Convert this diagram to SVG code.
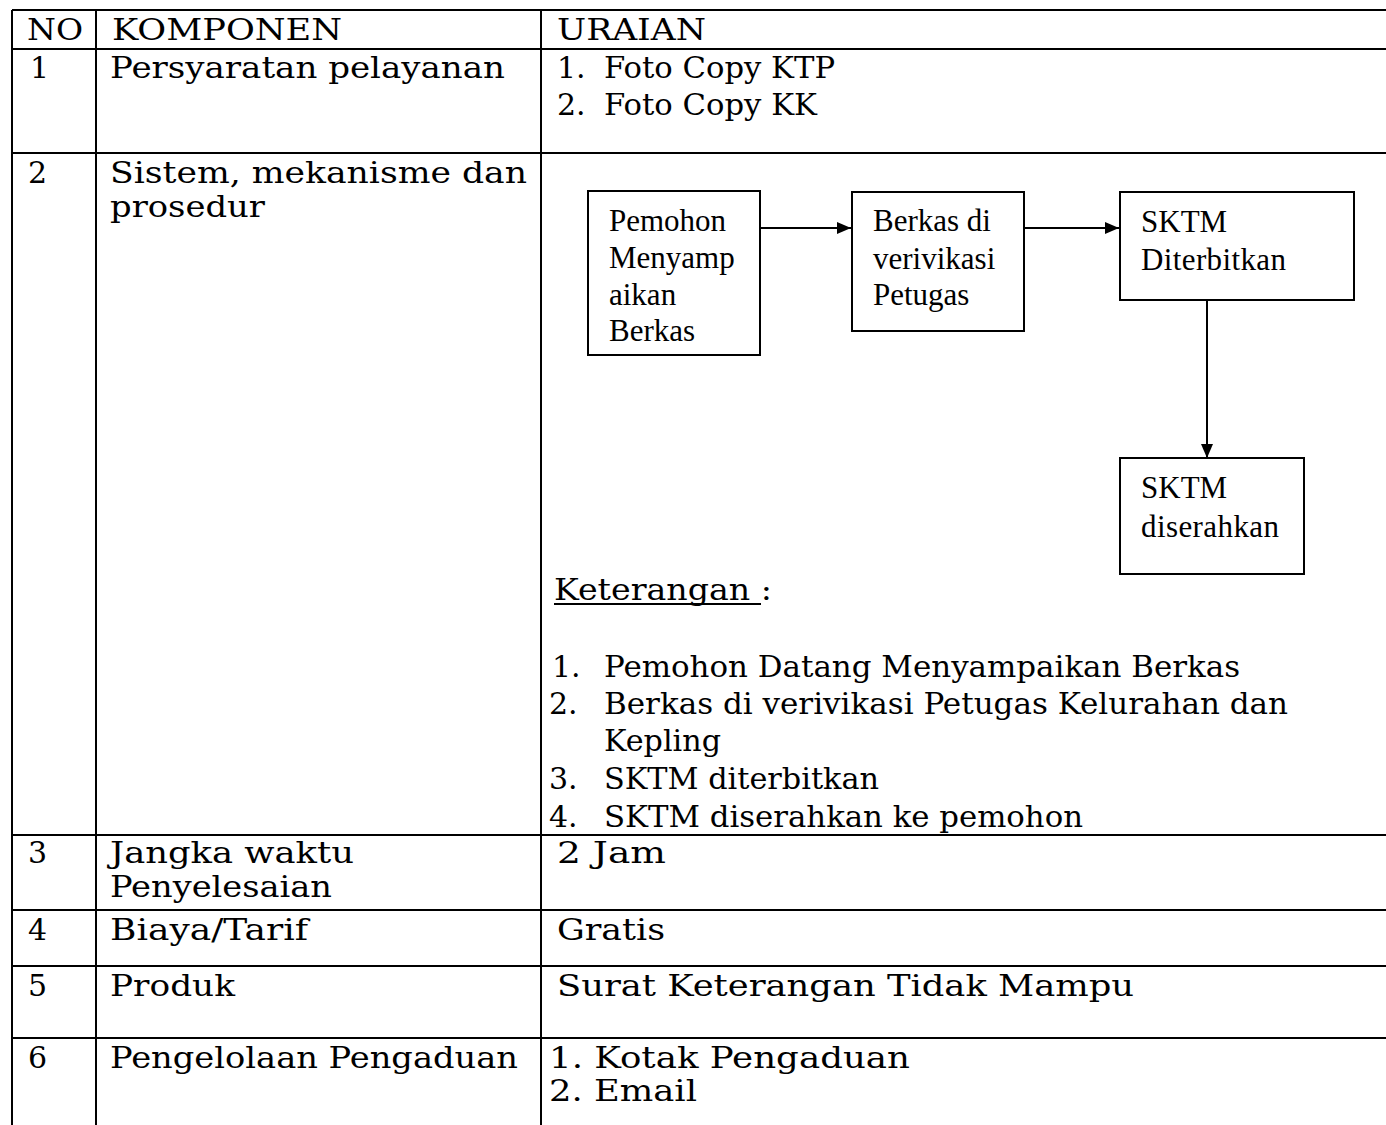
<svg xmlns="http://www.w3.org/2000/svg" width="1386" height="1125" viewBox="0 0 1386 1125">
<defs>
<marker id="arr" viewBox="0 0 14 12" refX="14" refY="6" markerWidth="14" markerHeight="12" markerUnits="userSpaceOnUse" orient="auto">
<path d="M0,0 L14,6 L0,12 Z" fill="#000"/>
</marker>
</defs>
<style>
.t{font-family:"DejaVu Serif","Liberation Serif",serif;font-size:30px;fill:#000}
.f{font-family:"Liberation Serif","Times New Roman",serif;font-size:31px;fill:#000}
.g{stroke:#000;stroke-width:2;fill:none}
.box{fill:#fff;stroke:#000;stroke-width:2}
.c{stroke:#000;stroke-width:2;fill:none}
</style>
<rect width="1386" height="1125" fill="#fff"/>
<g id="table">
<line class="g" x1="12" y1="10" x2="1386" y2="10"/>
<line class="g" x1="12" y1="49" x2="1386" y2="49"/>
<line class="g" x1="12" y1="153" x2="1386" y2="153"/>
<line class="g" x1="12" y1="835" x2="1386" y2="835"/>
<line class="g" x1="12" y1="910" x2="1386" y2="910"/>
<line class="g" x1="12" y1="966" x2="1386" y2="966"/>
<line class="g" x1="12" y1="1038" x2="1386" y2="1038"/>
<line class="g" x1="12" y1="10" x2="12" y2="1125"/>
<line class="g" x1="96" y1="10" x2="96" y2="1125"/>
<line class="g" x1="541" y1="10" x2="541" y2="1125"/>
</g>
<g id="header">
<text class="t" x="27" y="40" textLength="56" lengthAdjust="spacingAndGlyphs">NO</text>
<text class="t" x="112" y="40" textLength="230" lengthAdjust="spacingAndGlyphs">KOMPONEN</text>
<text class="t" x="557" y="40" textLength="149" lengthAdjust="spacingAndGlyphs">URAIAN</text>
</g>
<g id="row1">
<text class="t" x="30" y="78">1</text>
<text class="t" x="110" y="78" textLength="395" lengthAdjust="spacingAndGlyphs">Persyaratan pelayanan</text>
<text class="t" x="557" y="78">1.</text>
<text class="t" x="604" y="78" textLength="231" lengthAdjust="spacingAndGlyphs">Foto Copy KTP</text>
<text class="t" x="557" y="115">2.</text>
<text class="t" x="604" y="115" textLength="213" lengthAdjust="spacingAndGlyphs">Foto Copy KK</text>
</g>
<g id="row2">
<text class="t" x="28" y="183">2</text>
<text class="t" x="110" y="183" textLength="417" lengthAdjust="spacingAndGlyphs">Sistem, mekanisme dan</text>
<text class="t" x="110" y="217" textLength="155" lengthAdjust="spacingAndGlyphs">prosedur</text>
<text class="t" x="554" y="600" textLength="218" lengthAdjust="spacingAndGlyphs">Keterangan :</text>
<line x1="554" y1="604" x2="761" y2="604" stroke="#000" stroke-width="2"/>
<text class="t" x="552" y="677">1.</text>
<text class="t" x="604" y="677" textLength="636" lengthAdjust="spacingAndGlyphs">Pemohon Datang Menyampaikan Berkas</text>
<text class="t" x="549" y="714">2.</text>
<text class="t" x="604" y="714" textLength="684" lengthAdjust="spacingAndGlyphs">Berkas di verivikasi Petugas Kelurahan dan</text>
<text class="t" x="604" y="751" textLength="117" lengthAdjust="spacingAndGlyphs">Kepling</text>
<text class="t" x="549" y="789">3.</text>
<text class="t" x="604" y="789" textLength="275" lengthAdjust="spacingAndGlyphs">SKTM diterbitkan</text>
<text class="t" x="549" y="827">4.</text>
<text class="t" x="604" y="827" textLength="479" lengthAdjust="spacingAndGlyphs">SKTM diserahkan ke pemohon</text>
</g>
<g id="connectors">
<line class="c" x1="760" y1="228" x2="851" y2="228" marker-end="url(#arr)"/>
<line class="c" x1="1025" y1="228" x2="1119" y2="228" marker-end="url(#arr)"/>
<line class="c" x1="1207" y1="295" x2="1207" y2="458" marker-end="url(#arr)"/>
</g>
<g id="box1">
<rect class="box" x="588" y="191" width="172" height="164"/>
<text class="f" x="609" y="231">Pemohon</text>
<text class="f" x="609" y="268">Menyamp</text>
<text class="f" x="609" y="305">aikan</text>
<text class="f" x="609" y="341">Berkas</text>
</g>
<g id="box2">
<rect class="box" x="852" y="192" width="172" height="139"/>
<text class="f" x="873" y="231">Berkas di</text>
<text class="f" x="873" y="269">verivikasi</text>
<text class="f" x="873" y="305">Petugas</text>
</g>
<g id="box3">
<rect class="box" x="1120" y="192" width="234" height="108"/>
<text class="f" x="1141" y="232">SKTM</text>
<text class="f" x="1141" y="270" textLength="145">Diterbitkan</text>
</g>
<g id="box4">
<rect class="box" x="1120" y="458" width="184" height="116"/>
<text class="f" x="1141" y="498">SKTM</text>
<text class="f" x="1141" y="537" textLength="138">diserahkan</text>
</g>
<g id="row3">
<text class="t" x="28" y="863">3</text>
<text class="t" x="110" y="863" textLength="244" lengthAdjust="spacingAndGlyphs">Jangka waktu</text>
<text class="t" x="110" y="897" textLength="222" lengthAdjust="spacingAndGlyphs">Penyelesaian</text>
<text class="t" x="557" y="863" textLength="109" lengthAdjust="spacingAndGlyphs">2 Jam</text>
</g>
<g id="row4">
<text class="t" x="28" y="940">4</text>
<text class="t" x="110" y="940" textLength="198" lengthAdjust="spacingAndGlyphs">Biaya/Tarif</text>
<text class="t" x="557" y="940" textLength="108" lengthAdjust="spacingAndGlyphs">Gratis</text>
</g>
<g id="row5">
<text class="t" x="28" y="996">5</text>
<text class="t" x="110" y="996" textLength="125" lengthAdjust="spacingAndGlyphs">Produk</text>
<text class="t" x="557" y="996" textLength="577" lengthAdjust="spacingAndGlyphs">Surat Keterangan Tidak Mampu</text>
</g>
<g id="row6">
<text class="t" x="28" y="1068">6</text>
<text class="t" x="110" y="1068" textLength="408" lengthAdjust="spacingAndGlyphs">Pengelolaan Pengaduan</text>
<text class="t" x="549" y="1068" textLength="361" lengthAdjust="spacingAndGlyphs">1. Kotak Pengaduan</text>
<text class="t" x="549" y="1101" textLength="148" lengthAdjust="spacingAndGlyphs">2. Email</text>
</g>
</svg>
